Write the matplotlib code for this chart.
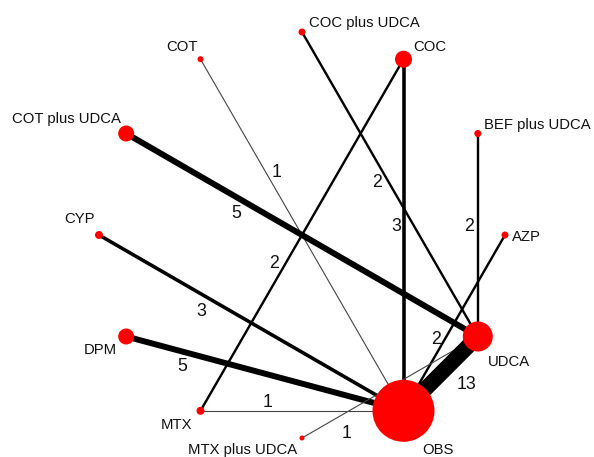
import numpy as np
import matplotlib
matplotlib.use("Agg")
import matplotlib.pyplot as plt
from matplotlib.patches import Circle

# --- data ---
treatments = ["COC plus UDCA", "COC", "BEF plus UDCA", "AZP", "UDCA", "OBS",
              "MTX plus UDCA", "MTX", "DPM", "CYP", "COT plus UDCA", "COT"]
node_size = [3.5, 8.5, 3.5, 3.5, 15, 31, 2.5, 4, 8, 4, 8, 3]
edges_from = ["COT", "COT plus UDCA", "COC plus UDCA", "COC", "COC", "BEF plus UDCA",
              "AZP", "CYP", "DPM", "MTX", "MTX plus UDCA", "UDCA"]
edges_to = ["OBS", "UDCA", "UDCA", "OBS", "MTX", "UDCA",
            "OBS", "OBS", "OBS", "OBS", "UDCA", "OBS"]
n_studies = [1, 5, 2, 3, 2, 2, 2, 3, 5, 1, 1, 13]

# --- styles (label placement along edges: fraction t, perpendicular offset px) ---
lab_t = [0.335, 0.334, 0.478, 0.476, 0.595, 0.46, 0.618, 0.361, 0.215, 0.33, 0.2, 0.40]
lab_off = [-9.7, 14.5, 10.5, 7.0, 10.4, 9.0, 7.4, 15.4, 14.5, -8.3, 18.7, -25.7]
# node label offsets (dx, dy, ha) in pixels
name_off = {
    "COC plus UDCA": (7, -9, "left"),
    "COC": (10, -12, "left"),
    "BEF plus UDCA": (6, -8, "left"),
    "AZP": (7, 2, "left"),
    "UDCA": (10, 26, "left"),
    "OBS": (19, 39, "left"),
    "MTX plus UDCA": (-5, 12, "right"),
    "MTX": (-8, 14, "right"),
    "DPM": (-9, 14, "right"),
    "CYP": (-4, -16, "right"),
    "COT plus UDCA": (-5, -15, "right"),
    "COT": (-3, -12, "right"),
}

W, H = 594, 457
fig = plt.figure(figsize=(W / 100, H / 100), dpi=100)
ax = fig.add_axes([0, 0, 1, 1])
ax.set_xlim(0, W)
ax.set_ylim(H, 0)
ax.set_aspect("equal")
ax.axis("off")

cx, cy, R = 302, 235, 203
pos = {}
for i, name in enumerate(treatments):
    ang = np.deg2rad(90 - 30 * i)
    pos[name] = (cx + R * np.cos(ang), cy - R * np.sin(ang))

font = "Liberation Sans"
for a, b, n, t, off in zip(edges_from, edges_to, n_studies, lab_t, lab_off):
    x0, y0 = pos[a]
    x1, y1 = pos[b]
    lw = 0.86 * n
    ax.plot([x0, x1], [y0, y1], color="black" if n > 1 else "#444444",
            lw=lw if n > 1 else 0.8, solid_capstyle="butt", zorder=1)
    dx, dy = x1 - x0, y1 - y0
    L = np.hypot(dx, dy)
    nx, ny = -dy / L, dx / L
    lx = x0 + t * dx + off * nx
    ly = y0 + t * dy + off * ny
    ax.text(lx, ly, str(n), fontsize=12.8, family=font, ha="center", va="center",
            color="#111111", zorder=3)

for name, s in zip(treatments, node_size):
    x, y = pos[name]
    ax.add_patch(Circle((x, y), s, color="#FF0000", zorder=2, lw=0))
    ddx, ddy, ha = name_off[name]
    ax.text(x + ddx, y + ddy, name, fontsize=10.7, family=font, ha=ha, va="center",
            color="#111111", zorder=3)

fig.savefig("out.png", dpi=100)
